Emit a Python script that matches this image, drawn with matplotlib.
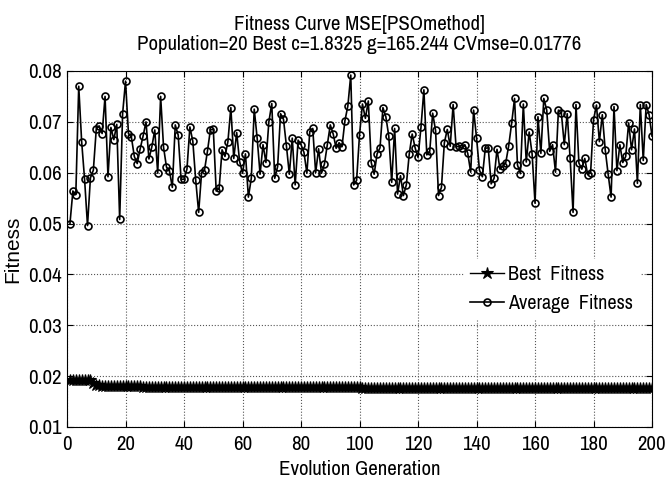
"""Fitness curve of the PSO parameter search (MATLAB-style figure)."""
import matplotlib
matplotlib.use("Agg")
import matplotlib.pyplot as plt  # noqa: E402

generations = list(range(1, 201))

avg_fitness = [
    0.0500, 0.0564, 0.0557, 0.0770, 0.0661, 0.0587, 0.0496, 0.0590, 0.0605, 0.0686,
    0.0692, 0.0677, 0.0750, 0.0592, 0.0689, 0.0665, 0.0695, 0.0508, 0.0716, 0.0780,
    0.0677, 0.0670, 0.0632, 0.0618, 0.0647, 0.0672, 0.0700, 0.0627, 0.0651, 0.0684,
    0.0599, 0.0750, 0.0650, 0.0611, 0.0604, 0.0571, 0.0694, 0.0674, 0.0587, 0.0587,
    0.0607, 0.0690, 0.0662, 0.0585, 0.0522, 0.0600, 0.0605, 0.0642, 0.0684, 0.0686,
    0.0564, 0.0569, 0.0645, 0.0632, 0.0661, 0.0728, 0.0628, 0.0679, 0.0622, 0.0599,
    0.0637, 0.0552, 0.0589, 0.0725, 0.0668, 0.0597, 0.0655, 0.0620, 0.0700, 0.0736,
    0.0589, 0.0612, 0.0716, 0.0705, 0.0653, 0.0597, 0.0668, 0.0576, 0.0664, 0.0655,
    0.0640, 0.0599, 0.0681, 0.0687, 0.0600, 0.0647, 0.0599, 0.0617, 0.0655, 0.0694,
    0.0676, 0.0648, 0.0659, 0.0651, 0.0702, 0.0731, 0.0792, 0.0576, 0.0585, 0.0675,
    0.0735, 0.0707, 0.0741, 0.0620, 0.0597, 0.0637, 0.0649, 0.0728, 0.0710, 0.0672,
    0.0581, 0.0687, 0.0558, 0.0594, 0.0555, 0.0576, 0.0637, 0.0676, 0.0649, 0.0630,
    0.0689, 0.0763, 0.0635, 0.0642, 0.0717, 0.0683, 0.0555, 0.0571, 0.0659, 0.0685,
    0.0652, 0.0734, 0.0651, 0.0652, 0.0648, 0.0655, 0.0638, 0.0601, 0.0723, 0.0669,
    0.0605, 0.0592, 0.0648, 0.0649, 0.0578, 0.0589, 0.0646, 0.0607, 0.0613, 0.0620,
    0.0653, 0.0697, 0.0746, 0.0615, 0.0598, 0.0735, 0.0621, 0.0680, 0.0637, 0.0540,
    0.0710, 0.0638, 0.0746, 0.0723, 0.0642, 0.0655, 0.0601, 0.0723, 0.0717, 0.0655,
    0.0716, 0.0628, 0.0522, 0.0734, 0.0619, 0.0607, 0.0628, 0.0596, 0.0600, 0.0704,
    0.0733, 0.0661, 0.0714, 0.0645, 0.0597, 0.0552, 0.0730, 0.0604, 0.0655, 0.0620,
    0.0632, 0.0698, 0.0645, 0.0686, 0.0579, 0.0734, 0.0624, 0.0734, 0.0714, 0.0672,
]

# best fitness is a staircase: (value, number of generations it holds)
best_steps = [
    (0.0193, 8), (0.0186, 1), (0.0183, 2), (0.0181, 14),
    (0.0179, 25), (0.0178, 50), (0.01776, 100),
]
best_fitness = [v for v, n in best_steps for _ in range(n)]

title_lines = [
    "Fitness Curve MSE[PSOmethod]",
    "Population=20 Best c=1.8325 g=165.244 CVmse=0.01776",
]
x_ticks = [0, 20, 40, 60, 80, 100, 120, 140, 160, 180, 200]
y_ticks = [0.01, 0.02, 0.03, 0.04, 0.05, 0.06, 0.07, 0.08]

# the source figure was squeezed sideways: narrow face for horizontal text
plt.rcParams["font.family"] = ["Archivo Narrow", "Liberation Sans", "DejaVu Sans"]

fig = plt.figure(figsize=(6.65, 4.78), dpi=100)
ax = fig.add_axes([0.1008, 0.1067, 0.8797, 0.7448])

ax.plot(generations, best_fitness, "-*", color="black", lw=1.0, ms=9,
        mew=0.8, label="Best  Fitness")
ax.plot(generations, avg_fitness, "-o", color="black", lw=1.2, ms=5,
        mfc="none", mew=1.2, label="Average  Fitness")

ax.set_xlim(0, 200)
ax.set_ylim(0.01, 0.08)
ax.set_xticks(x_ticks)
ax.set_yticks(y_ticks)
ax.set_yticklabels([f"{t:.2f}" for t in y_ticks])
ax.tick_params(direction="in", top=True, right=True, length=4, width=0.8,
               labelsize=15)
ax.tick_params(axis="y", pad=4)
ax.tick_params(axis="x", pad=6)
ax.grid(True, color="#555555", linestyle=":", linewidth=0.8)
for s in ax.spines.values():
    s.set_linewidth(0.8)

ax.set_title("\n".join(title_lines), fontsize=15, linespacing=1.05, pad=15)
ax.set_xlabel("Evolution Generation", fontsize=15, labelpad=4)
# vertical text was not squeezed in the source, so keep a normal-width face
ax.set_ylabel("Fitness", fontsize=15, labelpad=4,
              family=["Liberation Sans", "DejaVu Sans"])

leg = ax.legend(loc="center right", bbox_to_anchor=(0.995, 0.387),
                fontsize=14.5, frameon=True, handlelength=1.7,
                handletextpad=0.2, labelspacing=0.5, borderpad=0.3)
leg.get_frame().set_edgecolor("white")
leg.get_frame().set_facecolor("white")
leg.get_frame().set_alpha(1.0)
leg.get_frame().set_boxstyle("square", pad=0.0)

fig.savefig("out.png", dpi=100)
plt.close(fig)
